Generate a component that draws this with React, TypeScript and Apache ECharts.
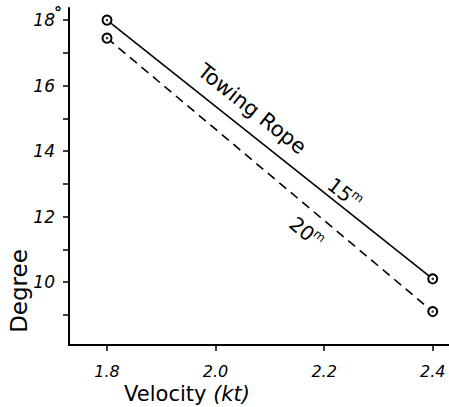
import React, { useEffect, useRef } from "react";
import * as echarts from "echarts";

const velocities = [1.8, 2.4];
const rope15 = [18.0, 10.1];
const rope20 = [17.45, 9.1];
const xTickValues = [1.8, 2.0, 2.2, 2.4];
const yTickValues = [9, 10, 11, 12, 13, 14, 15, 16, 17, 18];
const yLabelValues = [10, 12, 14, 16, 18];

const FONT = "DejaVu Sans";

function supLabel(num: string, x: number, y: number, rot: number) {
  return {
    type: "group",
    x,
    y,
    rotation: rot,
    children: [
      {
        type: "text",
        x: 0,
        y: 0,
        style: { text: num, fill: "#000", font: `20px "${FONT}"`, textAlign: "center", textVerticalAlign: "middle" },
      },
      {
        type: "text",
        x: 18,
        y: -6,
        style: { text: "m", fill: "#000", font: `12px "${FONT}"`, textAlign: "center", textVerticalAlign: "middle" },
      },
    ],
  };
}

export default function App() {
  const ref = useRef<HTMLDivElement>(null);
  useEffect(() => {
    if (!ref.current) return;
    const chart = echarts.init(ref.current, null, { renderer: "svg" });
    const d15 = velocities.map((v, i) => [v, rope15[i]]);
    const d20 = velocities.map((v, i) => [v, rope20[i]]);
    const rotA = (-38.3 * Math.PI) / 180;
    const rotB = (-40 * Math.PI) / 180;
    chart.setOption({
      animation: false,
      backgroundColor: "#fff",
      grid: { left: 69, right: 0, top: 8, bottom: 62 },
      xAxis: {
        type: "value",
        min: 1.73,
        max: 2.43,
        splitLine: { show: false },
        axisLine: { show: true, onZero: false, lineStyle: { color: "#000", width: 2 } },
        axisTick: { show: true, length: 6, customValues: xTickValues, lineStyle: { color: "#000", width: 1.5 } },
        axisLabel: {
          customValues: xTickValues,
          formatter: (v: number) => v.toFixed(1),
          margin: 18,
          color: "#000",
          fontFamily: FONT,
          fontStyle: "italic",
          fontSize: 16,
        },
      },
      yAxis: {
        type: "value",
        min: 8.08,
        max: 18.37,
        splitLine: { show: false },
        axisLine: { show: true, lineStyle: { color: "#000", width: 2 } },
        axisTick: { show: true, length: 6, customValues: yTickValues, lineStyle: { color: "#000", width: 1.5 } },
        axisLabel: {
          customValues: yLabelValues,
          formatter: (v: number) => String(v),
          margin: 14,
          color: "#000",
          fontFamily: FONT,
          fontStyle: "italic",
          fontSize: 17,
        },
      },
      series: [
        {
          type: "line",
          data: d15,
          symbol: "emptyCircle",
          symbolSize: 9,
          lineStyle: { color: "#000", width: 1.6 },
          itemStyle: { color: "#000", borderWidth: 1.6 },
        },
        {
          type: "line",
          data: d20,
          symbol: "emptyCircle",
          symbolSize: 9,
          lineStyle: { color: "#000", width: 1.6, type: [9, 6] },
          itemStyle: { color: "#000", borderWidth: 1.6 },
        },
        {
          type: "scatter",
          data: [...d15, ...d20],
          symbol: "circle",
          symbolSize: 2.5,
          itemStyle: { color: "#000" },
          z: 5,
        },
      ],
      graphic: [
        {
          type: "text",
          x: 58,
          y: 12,
          style: { text: "°", fill: "#000", font: `bold 16px "${FONT}"`, textAlign: "center", textVerticalAlign: "middle" },
        },
        {
          type: "text",
          x: 19,
          y: 291,
          rotation: Math.PI / 2,
          style: { text: "Degree", fill: "#000", font: `23px "${FONT}"`, textAlign: "center", textVerticalAlign: "middle" },
        },
        {
          type: "text",
          x: 187,
          y: 394,
          style: {
            text: "Velocity {i|(kt)}",
            fill: "#000",
            font: `21px "${FONT}"`,
            textAlign: "center",
            textVerticalAlign: "middle",
            rich: { i: { fontStyle: "italic", fontSize: 21, fontFamily: FONT, fill: "#000" } },
          },
        },
        {
          type: "text",
          x: 252,
          y: 109,
          rotation: rotA,
          style: { text: "Towing Rope", fill: "#000", font: `21px "${FONT}"`, textAlign: "center", textVerticalAlign: "middle" },
        },
        supLabel("15", 340, 190, rotA),
        supLabel("20", 302, 229, rotB),
      ],
    });
    return () => chart.dispose();
  }, []);
  return (
    <div
      ref={ref}
      style={{ position: "fixed", left: 0, top: 0, width: 449, height: 407 }}
    />
  );
}
